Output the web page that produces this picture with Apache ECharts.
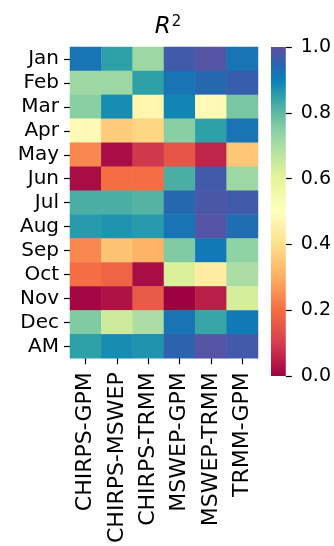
<!DOCTYPE html>
<html>
<head>
<meta charset="utf-8">
<script src="https://cdn.jsdelivr.net/npm/echarts@6/dist/echarts.min.js"></script>
<style>html,body{margin:0;padding:0;background:#fff;}#c{width:334px;height:546px;}</style>
</head>
<body>
<div id="c"></div>
<script>
var months = ['Jan','Feb','Mar','Apr','May','Jun','Jul','Aug','Sep','Oct','Nov','Dec','AM'];
var pairs = ['CHIRPS-GPM','CHIRPS-MSWEP','CHIRPS-TRMM','MSWEP-GPM','MSWEP-TRMM','TRMM-GPM'];
// R^2 per product pair, Jan..Dec, AM
var chirpsGpm   = [0.92,0.72,0.75,0.48,0.24,0.02,0.82,0.86,0.24,0.20,0.01,0.76,0.85];
var chirpsMswep = [0.85,0.72,0.88,0.36,0.02,0.20,0.82,0.87,0.34,0.18,0.03,0.64,0.88];
var chirpsTrmm  = [0.72,0.85,0.47,0.38,0.09,0.20,0.81,0.86,0.31,0.02,0.16,0.70,0.87];
var mswepGpm    = [0.97,0.92,0.89,0.75,0.15,0.82,0.94,0.92,0.76,0.62,0.00,0.92,0.95];
var mswepTrmm   = [0.99,0.94,0.48,0.85,0.06,0.97,0.98,0.99,0.91,0.44,0.05,0.84,0.99];
var trmmGpm     = [0.92,0.96,0.77,0.92,0.35,0.72,0.97,0.93,0.74,0.70,0.63,0.91,0.97];
var colorbarTicks = [0.0,0.2,0.4,0.6,0.8,1.0];

var columns = [chirpsGpm, chirpsMswep, chirpsTrmm, mswepGpm, mswepTrmm, trmmGpm];
var data = [];
columns.forEach(function(col, ci){
  col.forEach(function(v, ri){ data.push([ci, ri, v]); });
});

var cmap = ['#9e0142','#ba1f49','#d53e4f','#e55649','#f46d43','#f98e52','#fdae61','#fdc776',
            '#fee08b','#feefa5','#ffffbf','#f3faac','#e6f598','#c8e99e','#abdda4','#88cfa4',
            '#5fb8a2','#2ea0a8','#0a80b8','#2d62ae','#5e4fa2'];
var stops = cmap.map(function(c, i){ return {offset: 1 - i/(cmap.length-1), color: c}; }).reverse();

var FONT = 'DejaVu Sans';
var chart = echarts.init(document.getElementById('c'), null, {renderer:'canvas'});
chart.setOption({
  animation: false,
  backgroundColor: '#fff',
  title: {
    text: '{r|R}{s|2}',
    left: 163, top: 10, textAlign: 'center',
    textStyle: {
      fontWeight: 'normal',
      rich: {
        r: {fontFamily: FONT, fontStyle: 'italic', fontWeight: 'normal', fontSize: 23, color: '#000'},
        s: {fontFamily: FONT, fontWeight: 'normal', fontSize: 15, color: '#000', verticalAlign: 'top', padding: [0,0,9,1]}
      }
    }
  },
  grid: [
    {left: 70, right: 76, top: 47, bottom: 170},
    {left: 271, width: 15, top: 47, bottom: 170}
  ],
  xAxis: [
    {type: 'category', gridIndex: 0, data: pairs, position: 'bottom',
     axisLine: {show: false}, splitLine: {show: false}, splitArea: {show: false},
     axisTick: {show: true, alignWithLabel: true, length: 6, lineStyle: {color: '#000', width: 1.2}},
     axisLabel: {rotate: 90, margin: 14, fontFamily: FONT, fontSize: 22, color: '#000', interval: 0}},
    {type: 'category', gridIndex: 1, data: ['cb'], show: false}
  ],
  yAxis: [
    {type: 'category', gridIndex: 0, data: months, inverse: true,
     axisLine: {show: false}, splitLine: {show: false}, splitArea: {show: false},
     axisTick: {show: true, alignWithLabel: true, length: 6, lineStyle: {color: '#000', width: 1.2}},
     axisLabel: {margin: 11, fontFamily: FONT, fontSize: 20, color: '#000', interval: 0}},
    {type: 'value', gridIndex: 1, min: 0, max: 1, interval: 0.2, position: 'right',
     axisLine: {show: false}, splitLine: {show: false},
     axisTick: {show: true, length: 6, lineStyle: {color: '#000', width: 1.2}},
     axisLabel: {margin: 15, fontFamily: FONT, fontSize: 19, color: '#000',
       formatter: function(v){ return v.toFixed(1); }}}
  ],
  visualMap: {
    type: 'continuous', min: 0, max: 1, show: false, seriesIndex: 0,
    inRange: {color: cmap}
  },
  series: [
    {type: 'heatmap', xAxisIndex: 0, yAxisIndex: 0, data: data,
     itemStyle: {borderWidth: 0}, emphasis: {disabled: true}},
    {type: 'bar', xAxisIndex: 1, yAxisIndex: 1, data: [colorbarTicks[colorbarTicks.length-1]],
     barWidth: '100%', silent: true,
     itemStyle: {color: {type: 'linear', x: 0, y: 0, x2: 0, y2: 1, colorStops: stops}}}
  ]
});
</script>
</body>
</html>
